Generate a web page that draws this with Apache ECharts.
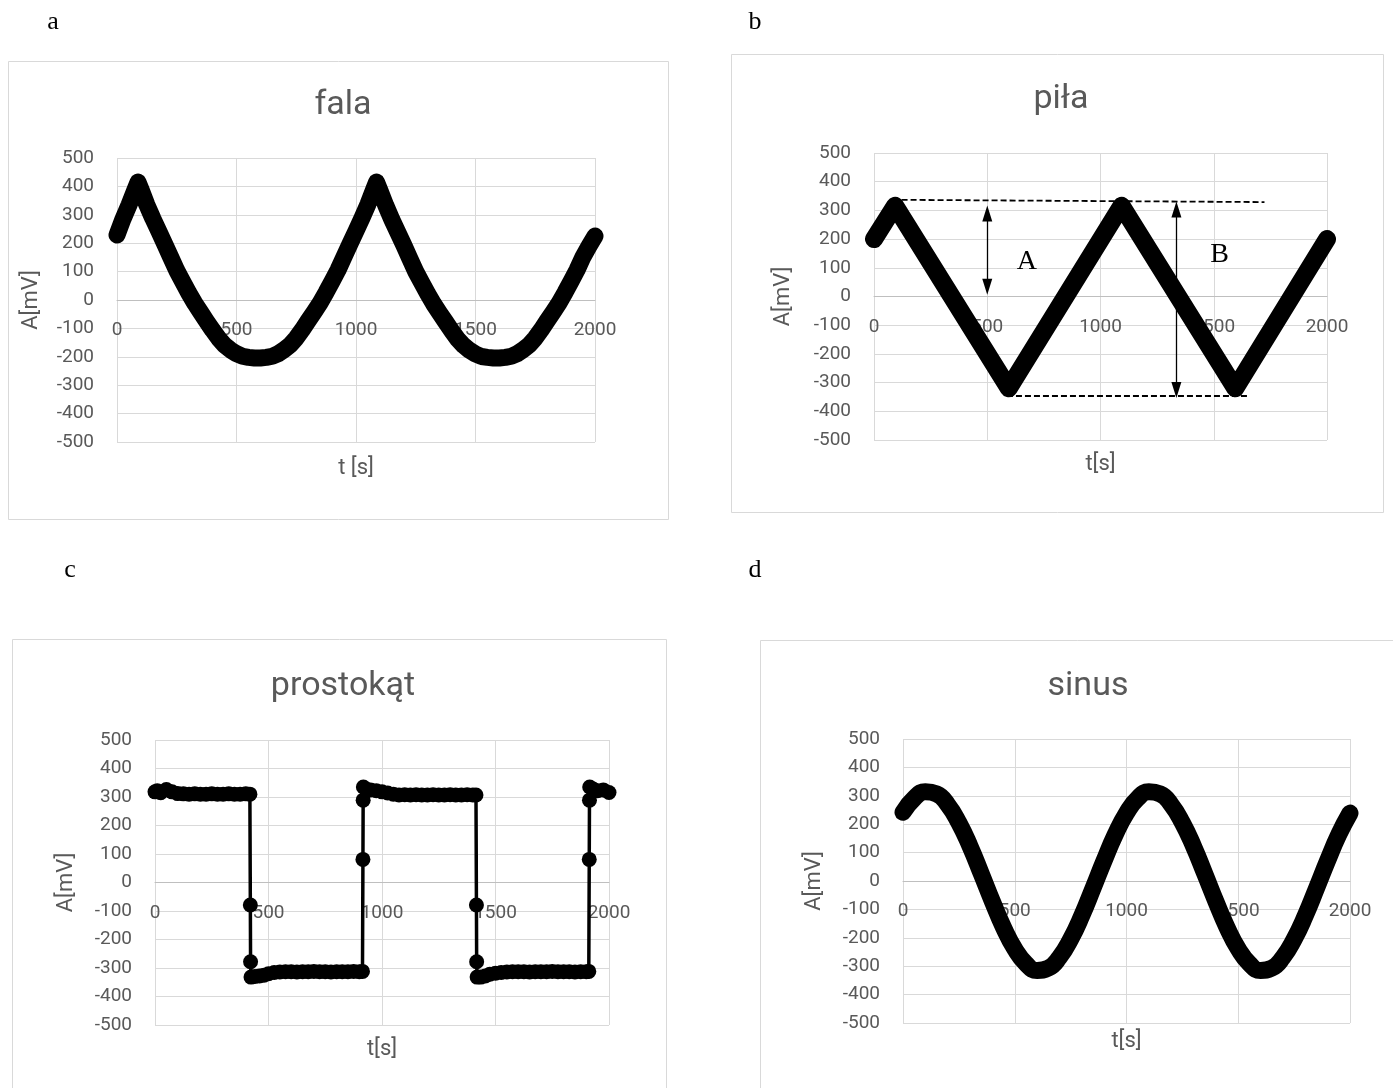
<!DOCTYPE html>
<html>
<head>
<meta charset="utf-8">
<script src="https://cdn.jsdelivr.net/npm/echarts@6/dist/echarts.min.js"></script>
<style>
html, body { margin: 0; padding: 0; background: #fff; }
#main { width: 1393px; height: 1088px; }
</style>
</head>
<body>
<div id="main"></div>
<script>
// a - fala
const tFala = [0, 25, 50, 75, 88, 100, 125, 150, 175, 200, 225, 250, 275, 300, 325, 350, 375, 400, 425, 450, 475, 500, 525, 550, 575,
  600, 625, 650, 675, 700, 725, 750, 775, 800, 825, 850, 875, 900, 925, 950, 975, 1000, 1025, 1050, 1075, 1086,
  1100, 1125, 1150, 1175, 1200, 1225, 1250, 1275, 1300, 1325, 1350, 1375, 1400, 1425, 1450, 1475, 1500, 1525, 1550, 1575,
  1600, 1625, 1650, 1675, 1700, 1725, 1750, 1775, 1800, 1825, 1850, 1875, 1900, 1925, 1950, 1975, 2000];
const vFala = [229, 285, 334, 388, 415, 390, 335, 287, 242, 196, 150, 104, 64, 25, -11, -43, -75, -106, -135, -159, -176, -189, -198, -202, -204,
  -204, -202, -198, -189, -175, -158, -134, -105, -73, -42, -10, 27, 66, 106, 152, 198, 243, 289, 337, 392, 415,
  386, 332, 283, 238, 193, 146, 100, 61, 22, -14, -46, -77, -108, -137, -160, -177, -190, -199, -202, -204,
  -204, -202, -198, -189, -175, -158, -134, -105, -73, -42, -10, 27, 66, 106, 152, 190, 225];

// b - piła
const tPila = [0, 93, 595, 1093, 1595, 2000];
const vPila = [200, 316, -320, 316, -320, 200];
// annotations on b (data coordinates)
const guideTop = [[82, 337], [1724, 329]];
const guideBottom = [[587, -346], [1654, -346]];
const arrowA = [[500, 289], [500, 34]];
const arrowB = [[1335, 303], [1335, -326]];
const labelA = [675, 122];
const labelB = [1526, 145];

// c - prostokąt
const tProst = [0, 10, 25, 50, 75, 100, 125, 150, 175, 200, 225, 250, 275, 300, 325, 350, 375, 400, 418,
  420, 421, 423,
  440, 460, 480, 500, 525, 550, 575, 600, 625, 650, 675, 700, 725, 750, 775, 800, 825, 850, 875, 900, 914,
  916, 917, 918,
  930, 950, 975, 1000, 1025, 1050, 1075, 1100, 1125, 1150, 1175, 1200, 1225, 1250, 1275, 1300, 1325, 1350, 1375, 1400, 1414,
  1416, 1417, 1419,
  1435, 1455, 1475, 1500, 1525, 1550, 1575, 1600, 1625, 1650, 1675, 1700, 1725, 1750, 1775, 1800, 1825, 1850, 1875, 1900, 1911,
  1913, 1914, 1915,
  1930, 1950, 1975, 2000];
const vProst = [318, 322, 315, 326, 318, 312, 311, 310, 311, 310, 310, 311, 310, 310, 311, 310, 310, 311, 310,
  -79, -278, -332,
  -330, -328, -325, -320, -316, -314, -313, -313, -314, -313, -313, -312, -313, -313, -314, -313, -313, -313, -312, -313, -312,
  81, 289, 335,
  328, 325, 322, 318, 314, 310, 307, 308, 307, 308, 307, 307, 308, 307, 307, 308, 307, 307, 308, 307, 307,
  -79, -278, -332,
  -332, -328, -322, -318, -316, -314, -313, -313, -313, -314, -313, -313, -313, -312, -313, -313, -313, -314, -313, -313, -312,
  81, 289, 335,
  328, 322, 325, 316];

// d - sinus
const tSinus = [0, 50, 100, 150, 200, 250, 300, 350, 400, 450, 500, 550, 600, 650, 700, 750, 800, 850, 900, 950,
  1000, 1050, 1100, 1150, 1200, 1250, 1300, 1350, 1400, 1450, 1500, 1550, 1600, 1650, 1700, 1750, 1800, 1850, 1900, 1950, 2000];
const vSinus = [242, 291, 314, 307, 269, 205, 122, 26, -72, -164, -239, -291, -315, -307, -269, -205, -122, -26, 72, 164,
  239, 291, 314, 307, 269, 205, 122, 26, -72, -164, -239, -291, -315, -307, -269, -205, -122, -26, 72, 164, 239];

const titles = ['fala', 'piła', 'prostokąt', 'sinus'];
const xNames = ['t [s]', 't[s]', 't[s]', 't[s]'];
const yName = 'A[mV]';
const panelLetters = ['a', 'b', 'c', 'd'];

const grey = '#595959';
const lineGrey = '#d9d9d9';
const font = 'Roboto, sans-serif';

function pairs(t, v) {
    return t.map((x, i) => [x, v[i]]);
}

// layout of each panel
const panels = [
    { grid: { left: 117, top: 158, width: 478, height: 284 }, tx: 338, ty: 83, xGap: 157, yGap: 75, box: [8, 61, 660, 458], letter: [53, 22] },
    { grid: { left: 874, top: 153, width: 453, height: 287 }, tx: 1056, ty: 77, xGap: 157, yGap: 80, box: [731, 54, 652, 458], letter: [755, 22] },
    { grid: { left: 155, top: 740, width: 454, height: 285 }, tx: 338, ty: 664, xGap: 156, yGap: 78, box: [12, 639, 654, 470], letter: [70, 570] },
    { grid: { left: 903, top: 739, width: 447, height: 284 }, tx: 1083, ty: 664, xGap: 149, yGap: 78, box: [760, 640, 700, 470], letter: [755, 570] },
];

const myChart = echarts.init(document.getElementById('main'));

let option = {
    animation: false,
    backgroundColor: '#fff',
    title: panels.map((p, i) => ({
        text: titles[i],
        left: p.tx,
        top: p.ty,
        textAlign: 'center',
        textStyle: { color: grey, fontFamily: font, fontSize: 34, fontWeight: 'normal' },
    })),
    grid: panels.map((p) => Object.assign({ outerBoundsMode: 'none', containLabel: false }, p.grid)),
    xAxis: panels.map((p, i) => ({
        type: 'value',
        gridIndex: i,
        min: 0,
        max: 2000,
        interval: 500,
        position: 'bottom',
        // axis sits on the zero line (middle of the -500..500 range)
        offset: -p.grid.height / 2,
        name: xNames[i],
        nameLocation: 'middle',
        nameGap: p.xGap,
        nameTextStyle: { color: grey, fontFamily: font, fontSize: 22 },
        axisLine: { onZero: false, lineStyle: { color: '#bfbfbf', width: 1 } },
        axisTick: { show: false },
        axisLabel: { color: grey, fontFamily: font, fontSize: 19, margin: 21, formatter: (v) => String(v) },
        splitLine: { show: true, lineStyle: { color: lineGrey, width: 1 } },
    })),
    yAxis: panels.map((p, i) => ({
        type: 'value',
        gridIndex: i,
        min: -500,
        max: 500,
        interval: 100,
        name: yName,
        nameLocation: 'middle',
        nameGap: p.yGap,
        nameTextStyle: { color: grey, fontFamily: font, fontSize: 22 },
        axisLine: { show: false },
        axisTick: { show: false },
        axisLabel: { color: grey, fontFamily: font, fontSize: 19, margin: 23, hideOverlap: false, formatter: (v) => String(v) },
        splitLine: { show: true, lineStyle: { color: lineGrey, width: 1 } },
    })),
    graphic: panels.map((p) => ({
        type: 'rect',
        silent: true,
        z: -10,
        shape: { x: p.box[0] + 0.5, y: p.box[1] + 0.5, width: p.box[2], height: p.box[3] },
        style: { fill: 'none', stroke: lineGrey, lineWidth: 1 },
    })).concat(panels.map((p, i) => ({
        type: 'text',
        silent: true,
        x: p.letter[0],
        y: p.letter[1],
        style: {
            text: panelLetters[i],
            fill: '#000',
            font: '26px "Liberation Serif", serif',
            align: 'center',
            verticalAlign: 'middle',
        },
    }))),
    series: [
        {
            name: 'fala',
            type: 'line',
            xAxisIndex: 0,
            yAxisIndex: 0,
            data: pairs(tFala, vFala),
            symbol: 'none',
            clip: false,
            lineStyle: { color: '#000', width: 17, cap: 'round', join: 'round' },
        },
        {
            name: 'piła',
            type: 'line',
            xAxisIndex: 1,
            yAxisIndex: 1,
            data: pairs(tPila, vPila),
            symbol: 'none',
            clip: false,
            lineStyle: { color: '#000', width: 18, cap: 'round', join: 'round' },
            markLine: {
                silent: true,
                animation: false,
                symbol: ['none', 'none'],
                label: { show: false },
                emphasis: { disabled: true },
                data: [
                    [
                        { coord: guideTop[0], lineStyle: { color: '#000', width: 1.8, type: [6, 3] } },
                        { coord: guideTop[1], lineStyle: { color: '#000', width: 1.8, type: [6, 3] } },
                    ],
                    [
                        { coord: guideBottom[0], lineStyle: { color: '#000', width: 1.8, type: [6, 3] } },
                        { coord: guideBottom[1], lineStyle: { color: '#000', width: 1.8, type: [6, 3] } },
                    ],
                    [
                        { coord: arrowA[0], symbol: 'triangle', symbolSize: [10, 16], lineStyle: { color: '#000', width: 1.3, type: 'solid' } },
                        { coord: arrowA[1], symbol: 'triangle', symbolSize: [10, 16], lineStyle: { color: '#000', width: 1.3, type: 'solid' } },
                    ],
                    [
                        { coord: arrowB[0], symbol: 'triangle', symbolSize: [10, 16], lineStyle: { color: '#000', width: 1.3, type: 'solid' } },
                        { coord: arrowB[1], symbol: 'triangle', symbolSize: [10, 16], lineStyle: { color: '#000', width: 1.3, type: 'solid' } },
                    ],
                ],
            },
            markPoint: {
                silent: true,
                animation: false,
                symbol: 'rect',
                symbolSize: 1,
                itemStyle: { color: 'rgba(0,0,0,0)' },
                label: {
                    show: true,
                    position: 'inside',
                    formatter: '{b}',
                    color: '#000',
                    fontFamily: '"Liberation Serif", serif',
                    fontSize: 28,
                },
                data: [
                    { name: 'A', coord: labelA },
                    { name: 'B', coord: labelB },
                ],
            },
        },
        {
            name: 'prostokąt',
            type: 'line',
            xAxisIndex: 2,
            yAxisIndex: 2,
            data: pairs(tProst, vProst),
            symbol: 'circle',
            symbolSize: 15,
            showAllSymbol: true,
            clip: false,
            itemStyle: { color: '#000' },
            lineStyle: { color: '#000', width: 3.5 },
        },
        {
            name: 'sinus',
            type: 'line',
            xAxisIndex: 3,
            yAxisIndex: 3,
            data: pairs(tSinus, vSinus),
            symbol: 'none',
            smooth: true,
            clip: false,
            lineStyle: { color: '#000', width: 17, cap: 'round', join: 'round' },
        },
    ],
};
myChart.setOption(option);
</script>
</body>
</html>
